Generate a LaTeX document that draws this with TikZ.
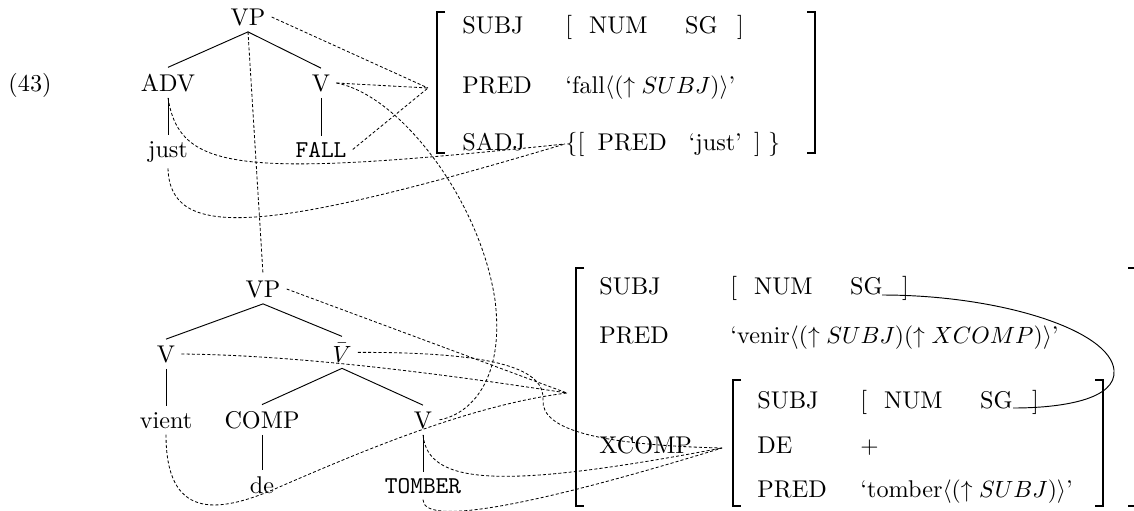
\documentclass[tikz,border=0pt]{standalone}
\begin{document}
\begin{tikzpicture}[x=0.4255pt,y=-0.4255pt,
  every node/.style={font=\fontsize{10.3pt}{12pt}\selectfont},
  cat/.style={inner sep=2.5pt,anchor=base},
  fs/.style={inner sep=0pt,anchor=base west},
  link/.style={dash pattern=on 1.3pt off 0.9pt,line width=0.35pt},
  brack/.style={line width=0.85pt}]
\def\subjval{[\hspace{0.7em}NUM\hspace{1.55em}SG\hspace{0.8em}]}
\useasboundingbox (0,0) rectangle (1134,510);
\clip (0,0) rectangle (1134,510);

\node[cat] (ex) at (30,91) {(43)};

% upper tree
\path
(248,25) node[cat] (vpA) {VP}
(168,91) node[cat] (adv) {ADV}
(321,91) node[cat] (vA) {V}
(168,157) node[cat] (just) {just}
(321,157) node[cat] (fall) {\texttt{FALL}};
\draw (vpA.south) -- (adv.north) (vpA.south) -- (vA.north);
\draw (adv.south) -- (just.north) (vA.south) -- (fall.north);

% lower tree
\path
(263,297) node[cat] (vpB) {VP}
(166,362) node[cat] (vB) {V}
(342,362) node[cat] (vbar) {$\bar{V}$}
(166,428) node[cat] (vient) {vient}
(262,428) node[cat] (comp) {COMP}
(423,428) node[cat] (vC) {V}
(262,493) node[cat] (de) {de}
(423,493) node[cat] (tomber) {\texttt{TOMBER}};
\draw (vpB.south) -- (vB.north) (vpB.south) -- (vbar.north);
\draw (vB.south) -- (vient.north);
\draw (vbar.south) -- (comp.north) (vbar.south) -- (vC.north);
\draw (comp.south) -- (de.north) (vC.south) -- (tomber.north);

% upper f-structure
\draw[brack] (445,12) -| (437,153) -- (445,153);
\draw[brack] (807,12) -| (815,153) -- (807,153);
\path
(462,33) node[fs] (subjA) {SUBJ}
(565,33) node[fs] (subjAval) {\subjval}
(462,93) node[fs] (predA) {PRED}
(565,93) node[fs] (predAval) {`fall$\langle(\uparrow SUBJ)\rangle$'}
(462,150) node[fs] (sadj) {SADJ}
(565,150) node[fs] (sadjval) {\{[\hspace{0.55em}PRED\hspace{0.9em}`just'\hspace{0.5em}]\hspace{0.3em}\}};

% lower f-structure
\draw[brack] (584,268) -| (576,506) -- (584,506);
\draw[brack] (1128,268) -| (1136,506) -- (1128,506);
\draw[brack] (741,380) -| (733,506) -- (741,506);
\draw[brack] (1095,380) -| (1103,506) -- (1095,506);
\path
(599,294) node[fs] (subjB) {SUBJ}
(730,294) node[fs] (subjBval) {\subjval}
(599,343) node[fs] (predB) {PRED}
(730,343) node[fs] (predBval) {`venir$\langle(\uparrow SUBJ)(\uparrow XCOMP)\rangle$'}
(599,453) node[fs] (xcomp) {XCOMP}
(757,408) node[fs] (subjC) {SUBJ}
(860,408) node[fs] (subjCval) {\subjval}
(757,453) node[fs] (deC) {DE}
(860,453) node[fs] (deCval) {$+$}
(757,497) node[fs] (predC) {PRED}
(860,497) node[fs] (predCval) {`tomber$\langle(\uparrow SUBJ)\rangle$'};

\coordinate (fA) at (428,88);
\coordinate (fB) at (567,393);
\coordinate (fC) at (722,448);
\coordinate (tieA) at (882,295);
\coordinate (tieB) at (1013,408);

% shared subject
\draw (tieA) .. controls (1000,295) and (1110,330) .. (1114,370)
  .. controls (1117,400) and (1060,408) .. (tieB);

\begin{scope}[link]
\draw (vpA.east) -- (fA);
\draw (vA.east) -- (fA);
\draw (fall.east) -- (fA);
\draw (adv.south) .. controls (180,172) and (240,178) .. (sadjval.west);
\draw (just.south) .. controls (170,240) and (260,235) .. (sadjval.west);
\draw (vpA.south) -- (vpB.north);
\draw (vA.east) .. controls (400,95) and (480,200) .. (495,300)
  .. controls (505,380) and (470,415) .. (vC.east);
\draw (vpB.east) -- (fB);
\draw (vB.east) .. controls (300,355) and (450,375) .. (fB);
\draw (vient.south) .. controls (166,518) and (215,515) .. (277,488)
  .. controls (360,452) and (470,405) .. (fB);
\draw (vbar.east) .. controls (500,352) and (545,370) .. (543,400)
  .. controls (541,430) and (600,445) .. (fC);
\draw (vC.south) .. controls (428,485) and (500,490) .. (fC);
\draw (tomber.south) .. controls (423,525) and (520,510) .. (fC);
\end{scope}
\end{tikzpicture}
\end{document}
